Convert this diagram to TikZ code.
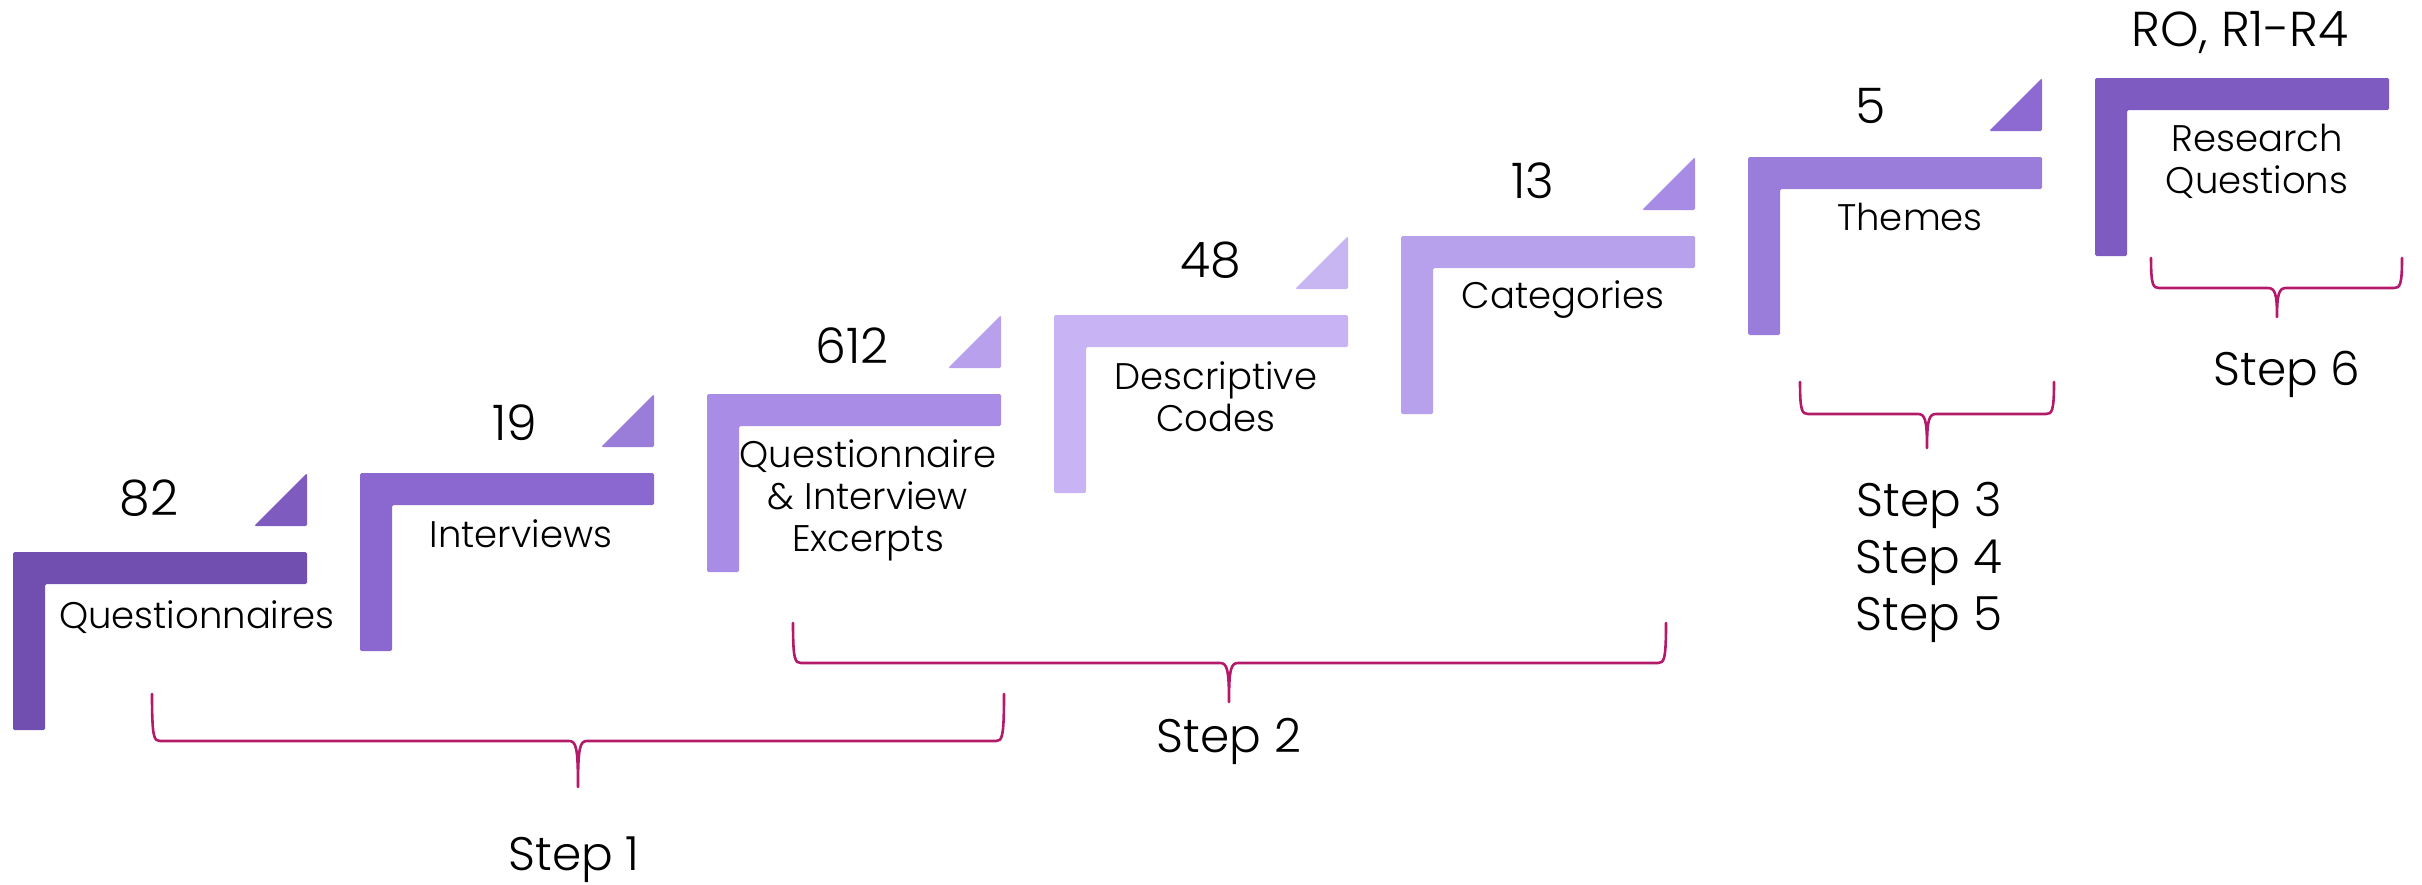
\documentclass[tikz,border=0pt]{standalone}
\usepackage{fontspec}
\IfFontExistsTF{Poppins Light}{\setmainfont{Poppins Light}}{\setmainfont{Poppins}}

% step colours: bar (L) and corner wedge (T)
\definecolor{L0}{HTML}{704FB0}
\definecolor{T0}{HTML}{7D5BBF}
\definecolor{L1}{HTML}{8A68CF}
\definecolor{T1}{HTML}{9A7DD9}
\definecolor{L2}{HTML}{A88CE6}
\definecolor{T2}{HTML}{B8A0EC}
\definecolor{L3}{HTML}{C8B4F4}
\definecolor{T3}{HTML}{C8B6F2}
\definecolor{L4}{HTML}{B7A0EC}
\definecolor{T4}{HTML}{A78BE5}
\definecolor{L5}{HTML}{9A7DDB}
\definecolor{T5}{HTML}{8D6AD1}
\definecolor{L6}{HTML}{7D5BC0}
\definecolor{bracered}{HTML}{B41A6A}

\begin{document}
\begin{tikzpicture}[x=1pt,y=-1pt,
  lbl/.style={font=\fontsize{37}{42}\selectfont, align=center, anchor=base, inner sep=0pt},
  num/.style={font=\fontsize{49}{56}\selectfont, anchor=base, inner sep=0pt},
  steplbl/.style={font=\fontsize{47}{57}\selectfont, align=center, anchor=base, inner sep=0pt},
  brace/.style={draw=bracered, line width=2.6pt, line cap=round, line join=round}]

\useasboundingbox (0,0) rectangle (2422,884);

% staircase of L-shaped bars
\foreach \i/\lc in {0/L0,1/L1,2/L2,3/L3,4/L4,5/L5,6/L6} {
  \pgfmathsetmacro\l{13+347*\i}
  \pgfmathsetmacro\t{552-79*\i}
  \fill[\lc, rounded corners=1.5pt] (\l,\t) -- ++(294,0) -- ++(0,32) -- ++(-262,0)
       -- ++(0,146) -- ++(-32,0) -- cycle;
}

% corner wedges above each bar
\foreach \i/\tc in {0/T0,1/T1,2/T2,3/T3,4/T4,5/T5} {
  \pgfmathsetmacro\r{307+347*\i}
  \pgfmathsetmacro\t{552-79*\i}
  \fill[\tc, rounded corners=1.5pt] (\r,\t-79) -- (\r,\t-26) -- (\r-53,\t-26) -- cycle;
}

% counts
\node[num] (n0) at (149,515) {82};
\node[num] (n1) at (515,440) {19};
\node[num] (n2) at (852,363) {612};
\node[num] (n3) at (1211,277) {48};
\node[num] (n4) at (1533,198) {13};
\node[num] (n5) at (1871,123) {5};
\node[num] (n6) at (2240,46) {RO, R1-R4};

% bar labels (multi-line nodes sit on the baseline of their last line)
\node[lbl] (q)  at (197,628)  {Questionnaires};
\node[lbl] (iv) at (521,547)  {Interviews};
\node[lbl] (ex) at (868,551)  {Questionnaire\\\& Interview\\Excerpts};
\node[lbl] (dc) at (1216,431) {Descriptive\\Codes};
\node[lbl] (ct) at (1563,308) {Categories};
\node[lbl] (th) at (1910,230) {Themes};
\node[lbl] (rq) at (2257,193) {Research\\Questions};

% braces grouping the stages
\foreach \L/\R/\T/\H/\B/\X in {152/1004/694/741/787/578, 793/1666/623/663/702/1229,
                               1800/2054/382/414/448/1927, 2151/2402/258/288/317/2277} {
  \draw[brace] (\L,\T) .. controls (\L,\H-3) and (\L+2,\H) .. (\L+8,\H)
     -- (\X-9,\H) .. controls (\X-2,\H) and (\X,\H+6) .. (\X,\B)
     .. controls (\X,\H+6) and (\X+2,\H) .. (\X+9,\H)
     -- (\R-8,\H) .. controls (\R-2,\H) and (\R,\H-3) .. (\R,\T);
}

% step labels
\node[steplbl] (s1)  at (574,870)  {Step 1};
\node[steplbl] (s2)  at (1229,752) {Step 2};
\node[steplbl] (s35) at (1929,630) {Step 3\\Step 4\\Step 5};
\node[steplbl] (s6)  at (2287,385) {Step 6};
\end{tikzpicture}
\end{document}
